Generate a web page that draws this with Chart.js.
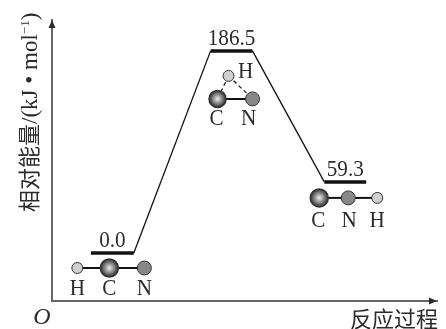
<!DOCTYPE html>
<html>
<head>
<meta charset="utf-8">
<style>
  html, body { margin: 0; padding: 0; background: #fff; }
  #box { width: 446px; height: 329px; }
</style>
<script src="https://cdn.jsdelivr.net/npm/chart.js@4/dist/chart.umd.min.js"></script>
</head>
<body>
<div id="box"><canvas id="grafico"></canvas></div>
<script>
// Values
const energyLabels = ['0.0', '186.5', '59.3'];
// The diagram is not to scale: the third level is drawn a bit above its label value
const levelHeights = [0, 186.5, 65.6];
const levelStart = [39, 159, 273];
const levelEnd = [82, 201, 315];
const yAxisCjk = '相对能量';
const yAxisUnit = '/(kJ • mol';
const xAxisTitle = '反应过程';
const originLabel = 'O';

const latinFont = '"Liberation Serif", "Noto Sans CJK SC", serif';
const inkColor = '#2b2b2b';
const axisColor = '#666666';

// Each molecule is placed relative to its level, offsets in pixels
const molecules = [
  {
    atoms: [
      { el: 'H', dx: -35, dy: 15, r: 5.5, lx: -35, ly: 36 },
      { el: 'C', dx: -3, dy: 15, r: 9, lx: -3, ly: 36 },
      { el: 'N', dx: 32, dy: 15, r: 7, lx: 32, ly: 36 }
    ],
    bonds: [[0, 1], [1, 2]],
    dashed: []
  },
  {
    atoms: [
      { el: 'H', dx: -3, dy: 25, r: 5.5, lx: 14, ly: 21 },
      { el: 'C', dx: -14, dy: 48, r: 8.5, lx: -15, ly: 68 },
      { el: 'N', dx: 21, dy: 48, r: 7, lx: 17, ly: 68 }
    ],
    bonds: [[1, 2]],
    dashed: [[0, 1], [0, 2]]
  },
  {
    atoms: [
      { el: 'C', dx: -26, dy: 16, r: 9, lx: -27, ly: 39 },
      { el: 'N', dx: 3, dy: 16, r: 7, lx: 4, ly: 39 },
      { el: 'H', dx: 32, dy: 16, r: 5.5, lx: 32, ly: 39 }
    ],
    bonds: [[0, 1], [1, 2]],
    dashed: []
  }
];

// Path through all levels: flat piece, rising piece, flat piece...
const pathPoints = [];
levelHeights.forEach(function(h, i) {
  pathPoints.push({ x: levelStart[i], y: h });
  pathPoints.push({ x: levelEnd[i], y: h });
});

function atomFill(ctx, atom, x, y) {
  if (atom.el === 'C') {
    const g = ctx.createRadialGradient(x, y, 0.5, x, y, atom.r);
    g.addColorStop(0, '#e4e4e4');
    g.addColorStop(0.55, '#808080');
    g.addColorStop(1, '#2e2e2e');
    return g;
  }
  return atom.el === 'N' ? '#878787' : '#cfcfcf';
}

// The reference type is taller and narrower than Liberation Serif
function narrowText(ctx, txt, x, y) {
  ctx.save();
  ctx.translate(x, y);
  ctx.scale(0.88, 1);
  ctx.font = '24px ' + latinFont;
  ctx.fillText(txt, 0, 0);
  ctx.restore();
}

const dibujo = {
  id: 'dibujo',
  afterDatasetsDraw(chart) {
    const ctx = chart.ctx;
    const xs = chart.scales.x;
    const ys = chart.scales.y;
    const area = chart.chartArea;

    ctx.save();
    // Axis arrow heads
    ctx.fillStyle = inkColor;
    ctx.beginPath();
    ctx.moveTo(area.left, area.top);
    ctx.lineTo(area.left - 3.5, area.top + 8);
    ctx.lineTo(area.left + 3.5, area.top + 8);
    ctx.fill();
    ctx.beginPath();
    ctx.moveTo(area.right, area.bottom);
    ctx.lineTo(area.right - 8, area.bottom - 3.5);
    ctx.lineTo(area.right - 8, area.bottom + 3.5);
    ctx.fill();

    // Energy labels above the levels
    ctx.textAlign = 'center';
    ctx.textBaseline = 'alphabetic';
    energyLabels.forEach(function(txt, i) {
      const cx = (xs.getPixelForValue(levelStart[i]) + xs.getPixelForValue(levelEnd[i])) / 2;
      narrowText(ctx, txt, cx, ys.getPixelForValue(levelHeights[i]) - 6);
    });

    // Molecules
    molecules.forEach(function(mol, i) {
      const cx = (xs.getPixelForValue(levelStart[i]) + xs.getPixelForValue(levelEnd[i])) / 2;
      const cy = ys.getPixelForValue(levelHeights[i]);
      const pos = function(a) { return [cx + a.dx, cy + a.dy]; };

      ctx.strokeStyle = '#111';
      ctx.lineWidth = 2;
      mol.bonds.forEach(function(b) {
        const p = pos(mol.atoms[b[0]]);
        const q = pos(mol.atoms[b[1]]);
        ctx.beginPath();
        ctx.moveTo(p[0], p[1]);
        ctx.lineTo(q[0], q[1]);
        ctx.stroke();
      });
      ctx.lineWidth = 1.2;
      ctx.setLineDash([4, 3]);
      mol.dashed.forEach(function(b) {
        const p = pos(mol.atoms[b[0]]);
        const q = pos(mol.atoms[b[1]]);
        ctx.beginPath();
        ctx.moveTo(p[0], p[1]);
        ctx.lineTo(q[0], q[1]);
        ctx.stroke();
      });
      ctx.setLineDash([]);

      mol.atoms.forEach(function(a) {
        const p = pos(a);
        ctx.beginPath();
        ctx.arc(p[0], p[1], a.r, 0, Math.PI * 2);
        ctx.fillStyle = atomFill(ctx, a, p[0], p[1]);
        ctx.fill();
        ctx.lineWidth = a.el === 'C' ? 1.5 : 1;
        ctx.strokeStyle = '#333';
        ctx.stroke();
        ctx.fillStyle = inkColor;
        ctx.textBaseline = 'middle';
        narrowText(ctx, a.el, cx + a.lx, cy + a.ly);
        ctx.textBaseline = 'alphabetic';
      });
    });

    // Origin and x axis title
    ctx.fillStyle = inkColor;
    ctx.font = 'italic 24px ' + latinFont;
    ctx.fillText(originLabel, 42, 324);
    ctx.font = '22px ' + latinFont;
    ctx.textAlign = 'right';
    ctx.fillText(xAxisTitle, 438, 327);

    // Rotated y axis title with superscript
    ctx.translate(37, 212);
    ctx.rotate(-Math.PI / 2);
    ctx.textAlign = 'left';
    ctx.fillText(yAxisCjk, 0, 0);
    let w = ctx.measureText(yAxisCjk).width;
    ctx.font = '23px ' + latinFont;
    ctx.fillText(yAxisUnit, w, 0);
    w += ctx.measureText(yAxisUnit).width;
    ctx.font = '13px ' + latinFont;
    ctx.fillText('−1', w, -8);
    w += ctx.measureText('−1').width;
    ctx.font = '23px ' + latinFont;
    ctx.fillText(')', w, 0);
    ctx.restore();
  }
};

new Chart(document.getElementById('grafico'), {
  type: 'scatter',
  data: {
    datasets: [{
      data: pathPoints,
      showLine: true,
      borderColor: '#111111',
      pointRadius: 0,
      tension: 0,
      borderCapStyle: 'butt',
      segment: {
        // Even segments are the flat levels
        borderWidth: function(c) { return c.p0DataIndex % 2 === 0 ? 3.5 : 1.3; }
      }
    }]
  },
  options: {
    responsive: true,
    maintainAspectRatio: false,
    animation: false,
    layout: { padding: { left: 44, top: 20, right: 9, bottom: 20 } },
    plugins: { legend: { display: false }, tooltip: { enabled: false } },
    scales: {
      x: {
        type: 'linear',
        min: 0,
        max: 386,
        grid: { display: false },
        ticks: { display: false },
        border: { color: axisColor, width: 2 }
      },
      y: {
        min: -44.3,
        max: 215,
        grid: { display: false },
        ticks: { display: false },
        border: { color: axisColor, width: 2 }
      }
    }
  },
  plugins: [dibujo]
});
</script>
</body>
</html>
